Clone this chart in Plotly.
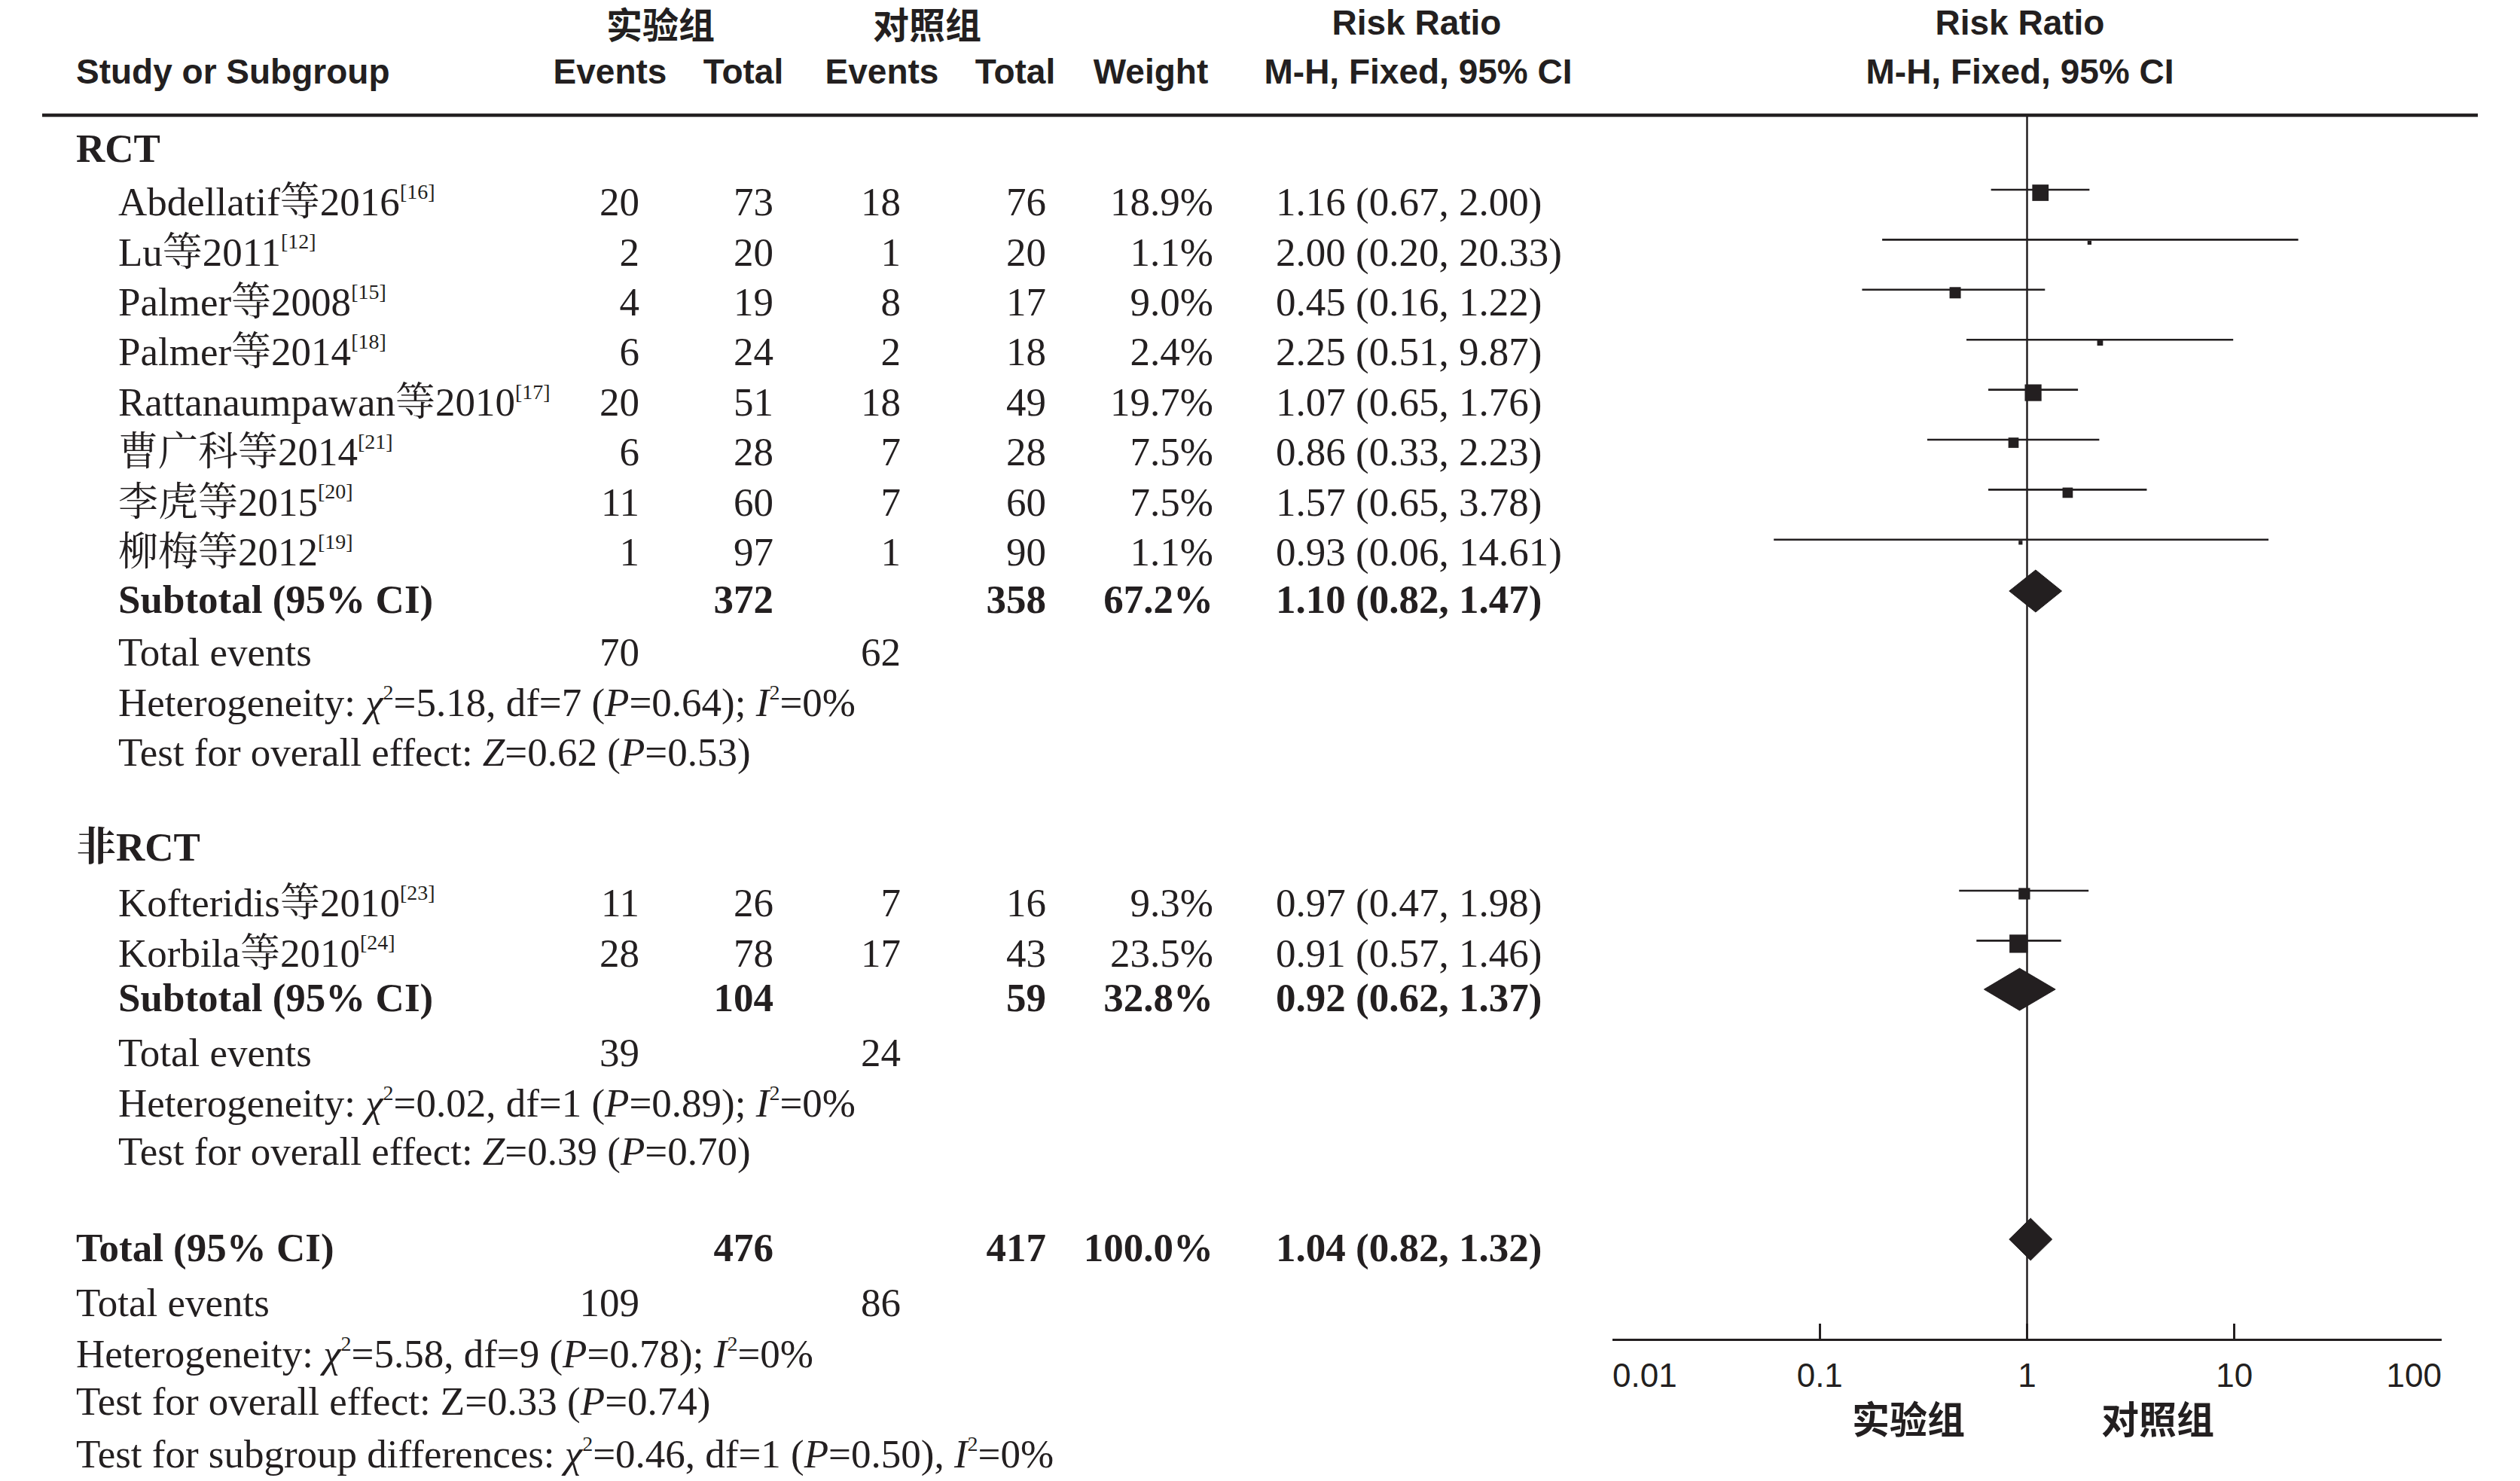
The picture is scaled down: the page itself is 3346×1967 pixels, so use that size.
import numpy as np
import plotly.graph_objects as go

W, H = 3346, 1967

# ---------------- data ----------------
groups = ["RCT", "非RCT"]
study_group = ["RCT"] * 8 + ["非RCT"] * 2
studies = ["Abdellatif等2016", "Lu等2011", "Palmer等2008", "Palmer等2014",
           "Rattanaumpawan等2010", "曹广科等2014", "李虎等2015", "柳梅等2012",
           "Kofteridis等2010", "Korbila等2010"]
refs = ["16", "12", "15", "18", "17", "21", "20", "19", "23", "24"]
exp_events = [20, 2, 4, 6, 20, 6, 11, 1, 11, 28]
exp_total = [73, 20, 19, 24, 51, 28, 60, 97, 26, 78]
ctrl_events = [18, 1, 8, 2, 18, 7, 7, 1, 7, 17]
ctrl_total = [76, 20, 17, 18, 49, 28, 60, 90, 16, 43]
weight = [18.9, 1.1, 9.0, 2.4, 19.7, 7.5, 7.5, 1.1, 9.3, 23.5]
rr = [1.16, 2.00, 0.45, 2.25, 1.07, 0.86, 1.57, 0.93, 0.97, 0.91]
rr_lo = [0.67, 0.20, 0.16, 0.51, 0.65, 0.33, 0.65, 0.06, 0.47, 0.57]
rr_hi = [2.00, 20.33, 1.22, 9.87, 1.76, 2.23, 3.78, 14.61, 1.98, 1.46]

sub_exp_total = [372, 104]
sub_ctrl_total = [358, 59]
sub_weight = [67.2, 32.8]
sub_rr = [1.10, 0.92]
sub_lo = [0.82, 0.62]
sub_hi = [1.47, 1.37]
sub_exp_events = [70, 39]
sub_ctrl_events = [62, 24]
sub_chi2 = [5.18, 0.02]
sub_df = [7, 1]
sub_het_p = [0.64, 0.89]
sub_i2 = [0, 0]
sub_z = [0.62, 0.39]
sub_z_p = [0.53, 0.70]

tot_exp_total = 476
tot_ctrl_total = 417
tot_weight = 100.0
tot_rr, tot_lo, tot_hi = 1.04, 0.82, 1.32
tot_exp_events = 109
tot_ctrl_events = 86
tot_chi2, tot_df, tot_het_p, tot_i2 = 5.58, 9, 0.78, 0
tot_z, tot_z_p = 0.33, 0.74
subdiff_chi2, subdiff_df, subdiff_p, subdiff_i2 = 0.46, 1, 0.50, 0

axis_ticks = [0.01, 0.1, 1, 10, 100]
axis_tick_labels = ["0.01", "0.1", "1", "10", "100"]
favours = ["实验组", "对照组"]
col_headers_top = ["实验组", "对照组", "Risk Ratio", "Risk Ratio"]
col_headers = ["Study or Subgroup", "Events", "Total", "Events", "Total", "Weight",
               "M-H, Fixed, 95% CI", "M-H, Fixed, 95% CI"]

# ---------------- layout constants ----------------
INK = "#231f20"
SERIF = "'Liberation Serif', 'Noto Serif CJK SC', 'Noto Sans CJK SC', serif"
SANS = "'Liberation Sans', Arial, 'Noto Sans CJK SC', sans-serif"
CJK = "'Noto Sans CJK SC', sans-serif"
FS = 53       # table font
FH = 46       # header font
SUP = 28      # superscript size

X_GROUP, X_STUDY = 101, 157
X_E1, X_T1, X_E2, X_T2, X_W, X_CI = 849, 1027, 1196, 1389, 1611, 1694
X_PLOT0, X_PLOT1 = 2141, 3242

Y_HEAD1, Y_HEAD2 = 34, 99
Y_HEAD1_CJK = 39
Y_RULE = 153
Y_AXIS = 1779
DY = 4
group_header_y = [198 + DY, 1126 + DY]
group_first_y = [269 + DY, 1200 + DY]
ROW = 66.4
sub_y = [797 + DY, 1326 + DY]
sub_te_y = [867 + DY, 1399 + DY]
sub_het_y = [934 + DY, 1466 + DY]
sub_test_y = [1000 + DY, 1530 + DY]
Y_TOT, Y_TOT_TE, Y_TOT_HET, Y_TOT_TEST, Y_SUBDIFF = [v + DY for v in (1658, 1731, 1799, 1862, 1932)]
LINE_OFF = -17 - DY
SQ_OFF = 4
DIA_OFF = -12 - DY
DIA_H = 28

fig = go.Figure()


def sup(s):
    return f"<sup><span style='font-size:{SUP}px'>{s}</span></sup>"


def text_trace(xs, ys, texts, pos, family=SERIF, size=FS, bold=False, axis="x2"):
    if bold:
        texts = [f"<b>{t}</b>" for t in texts]
    fig.add_trace(go.Scatter(
        x=xs, y=ys, text=texts, mode="text", textposition=pos,
        textfont=dict(family=family, size=size, color=INK),
        xaxis=axis, yaxis="y", hoverinfo="skip", showlegend=False, cliponaxis=False))


def het_text(chi2, df, p, i2, sep=";"):
    return (f"<i>χ</i>{sup(2)}={chi2:.2f}, df={df} (<i>P</i>={p:.2f}){sep} "
            f"<i>I</i>{sup(2)}={i2}%")


# ---------------- headers ----------------
text_trace([877, 1231], [Y_HEAD1_CJK] * 2, col_headers_top[:2], "middle center", CJK, 48, bold=True)
text_trace([1881, 2682], [Y_HEAD1] * 2, col_headers_top[2:], "middle center", SANS, FH, bold=True)
text_trace([X_GROUP], [Y_HEAD2], col_headers[:1], "middle right", SANS, FH, bold=True)
text_trace([810, 987, 1171, 1348, 1528, 1883, 2682], [Y_HEAD2] * 7, col_headers[1:],
           "middle center", SANS, FH, bold=True)

# rule under header
fig.add_trace(go.Scatter(x=[56, 3290], y=[Y_RULE, Y_RULE], mode="lines",
                         line=dict(color=INK, width=4.5), xaxis="x2", yaxis="y",
                         hoverinfo="skip", showlegend=False))

# ---------------- study rows ----------------
study_y = []
for i, g in enumerate(study_group):
    gi = groups.index(g)
    k = [j for j, gg in enumerate(study_group) if gg == g].index(i)
    study_y.append(group_first_y[gi] + ROW * k)

text_trace([X_GROUP] * 2, group_header_y, groups, "middle right", bold=True)
text_trace([X_STUDY] * len(studies), study_y,
           [f"{s}{sup('[' + r + ']')}" for s, r in zip(studies, refs)], "middle right")
text_trace([X_E1] * len(studies), study_y, [str(v) for v in exp_events], "middle left")
text_trace([X_T1] * len(studies), study_y, [str(v) for v in exp_total], "middle left")
text_trace([X_E2] * len(studies), study_y, [str(v) for v in ctrl_events], "middle left")
text_trace([X_T2] * len(studies), study_y, [str(v) for v in ctrl_total], "middle left")
text_trace([X_W] * len(studies), study_y, [f"{v:.1f}%" for v in weight], "middle left")
text_trace([X_CI] * len(studies), study_y,
           [f"{a:.2f} ({b:.2f}, {c:.2f})" for a, b, c in zip(rr, rr_lo, rr_hi)], "middle right")

# subgroup summary rows
text_trace([X_STUDY] * 2, sub_y, ["Subtotal (95% CI)"] * 2, "middle right", bold=True)
text_trace([X_T1] * 2, sub_y, [str(v) for v in sub_exp_total], "middle left", bold=True)
text_trace([X_T2] * 2, sub_y, [str(v) for v in sub_ctrl_total], "middle left", bold=True)
text_trace([X_W] * 2, sub_y, [f"{v:.1f}%" for v in sub_weight], "middle left", bold=True)
text_trace([X_CI] * 2, sub_y,
           [f"{a:.2f} ({b:.2f}, {c:.2f})" for a, b, c in zip(sub_rr, sub_lo, sub_hi)],
           "middle right", bold=True)
text_trace([X_STUDY] * 2, sub_te_y, ["Total events"] * 2, "middle right")
text_trace([X_E1] * 2, sub_te_y, [str(v) for v in sub_exp_events], "middle left")
text_trace([X_E2] * 2, sub_te_y, [str(v) for v in sub_ctrl_events], "middle left")
text_trace([X_STUDY] * 2, sub_het_y,
           ["Heterogeneity: " + het_text(c, d, p, i) for c, d, p, i in
            zip(sub_chi2, sub_df, sub_het_p, sub_i2)], "middle right")
text_trace([X_STUDY] * 2, sub_test_y,
           [f"Test for overall effect: <i>Z</i>={z:.2f} (<i>P</i>={p:.2f})"
            for z, p in zip(sub_z, sub_z_p)], "middle right")

# overall rows
text_trace([X_GROUP], [Y_TOT], ["Total (95% CI)"], "middle right", bold=True)
text_trace([X_T1], [Y_TOT], [str(tot_exp_total)], "middle left", bold=True)
text_trace([X_T2], [Y_TOT], [str(tot_ctrl_total)], "middle left", bold=True)
text_trace([X_W], [Y_TOT], [f"{tot_weight:.1f}%"], "middle left", bold=True)
text_trace([X_CI], [Y_TOT], [f"{tot_rr:.2f} ({tot_lo:.2f}, {tot_hi:.2f})"], "middle right", bold=True)
text_trace([X_GROUP], [Y_TOT_TE], ["Total events"], "middle right")
text_trace([X_E1], [Y_TOT_TE], [str(tot_exp_events)], "middle left")
text_trace([X_E2], [Y_TOT_TE], [str(tot_ctrl_events)], "middle left")
text_trace([X_GROUP], [Y_TOT_HET], ["Heterogeneity: " + het_text(tot_chi2, tot_df, tot_het_p, tot_i2)],
           "middle right")
text_trace([X_GROUP], [Y_TOT_TEST], [f"Test for overall effect: Z={tot_z:.2f} (<i>P</i>={tot_z_p:.2f})"],
           "middle right")
text_trace([X_GROUP], [Y_SUBDIFF],
           ["Test for subgroup differences: " + het_text(subdiff_chi2, subdiff_df, subdiff_p, subdiff_i2, sep=",")],
           "middle right")

# ---------------- forest plot ----------------
# line of no effect
fig.add_trace(go.Scatter(x=[1, 1], y=[Y_RULE, Y_AXIS], mode="lines",
                         line=dict(color=INK, width=2.5), xaxis="x", yaxis="y",
                         hoverinfo="skip", showlegend=False))
# CIs
for y, lo, hi in zip(study_y, rr_lo, rr_hi):
    fig.add_trace(go.Scatter(x=[lo, hi], y=[y + LINE_OFF] * 2, mode="lines",
                             line=dict(color=INK, width=2.6), xaxis="x", yaxis="y",
                             hoverinfo="skip", showlegend=False))
# squares
fig.add_trace(go.Scatter(
    x=rr, y=[y + LINE_OFF + SQ_OFF for y in study_y], mode="markers",
    marker=dict(symbol="square", color=INK, opacity=1, size=[5.0 * np.sqrt(w) for w in weight],
                line=dict(width=0)),
    xaxis="x", yaxis="y", hoverinfo="skip", showlegend=False))


def diamond(c, lo, hi, yc):
    fig.add_trace(go.Scatter(
        x=[lo, c, hi, c, lo], y=[yc, yc - DIA_H, yc, yc + DIA_H, yc], mode="lines",
        fill="toself", fillcolor=INK, line=dict(color=INK, width=1),
        xaxis="x", yaxis="y", hoverinfo="skip", showlegend=False))


for c, lo, hi, y in zip(sub_rr, sub_lo, sub_hi, sub_y):
    diamond(c, lo, hi, y + DIA_OFF)
diamond(tot_rr, tot_lo, tot_hi, Y_TOT + DIA_OFF)

# tick labels
Y_TICKLAB = 1831
text_trace([axis_ticks[0]], [Y_TICKLAB], [axis_tick_labels[0]], "middle right", SANS, 44, axis="x")
text_trace(axis_ticks[1:-1], [Y_TICKLAB] * 3, axis_tick_labels[1:-1], "middle center", SANS, 44, axis="x")
text_trace([axis_ticks[-1]], [Y_TICKLAB], [axis_tick_labels[-1]], "middle left", SANS, 44, axis="x")
text_trace([2534, 2865], [1891] * 2, favours, "middle center", CJK, 50, bold=True)

fig.update_layout(
    width=W, height=H, margin=dict(l=0, r=0, t=0, b=0),
    paper_bgcolor="white", plot_bgcolor="rgba(0,0,0,0)", showlegend=False,
    xaxis=dict(type="log", range=[-2, 2], domain=[X_PLOT0 / W, X_PLOT1 / W],
               anchor="free", position=1 - Y_AXIS / H,
               showline=True, linewidth=3, linecolor=INK, mirror=False,
               ticks="inside", ticklen=20, tickwidth=3, tickcolor=INK,
               tickvals=axis_ticks, showticklabels=False, showgrid=False, zeroline=False),
    xaxis2=dict(range=[0, W], domain=[0, 1], anchor="y", visible=False),
    yaxis=dict(range=[H, 0], domain=[0, 1], visible=False),
)

fig.write_html("out.html", config={"displayModeBar": False},
               post_script="document.body.style.margin='0';")
